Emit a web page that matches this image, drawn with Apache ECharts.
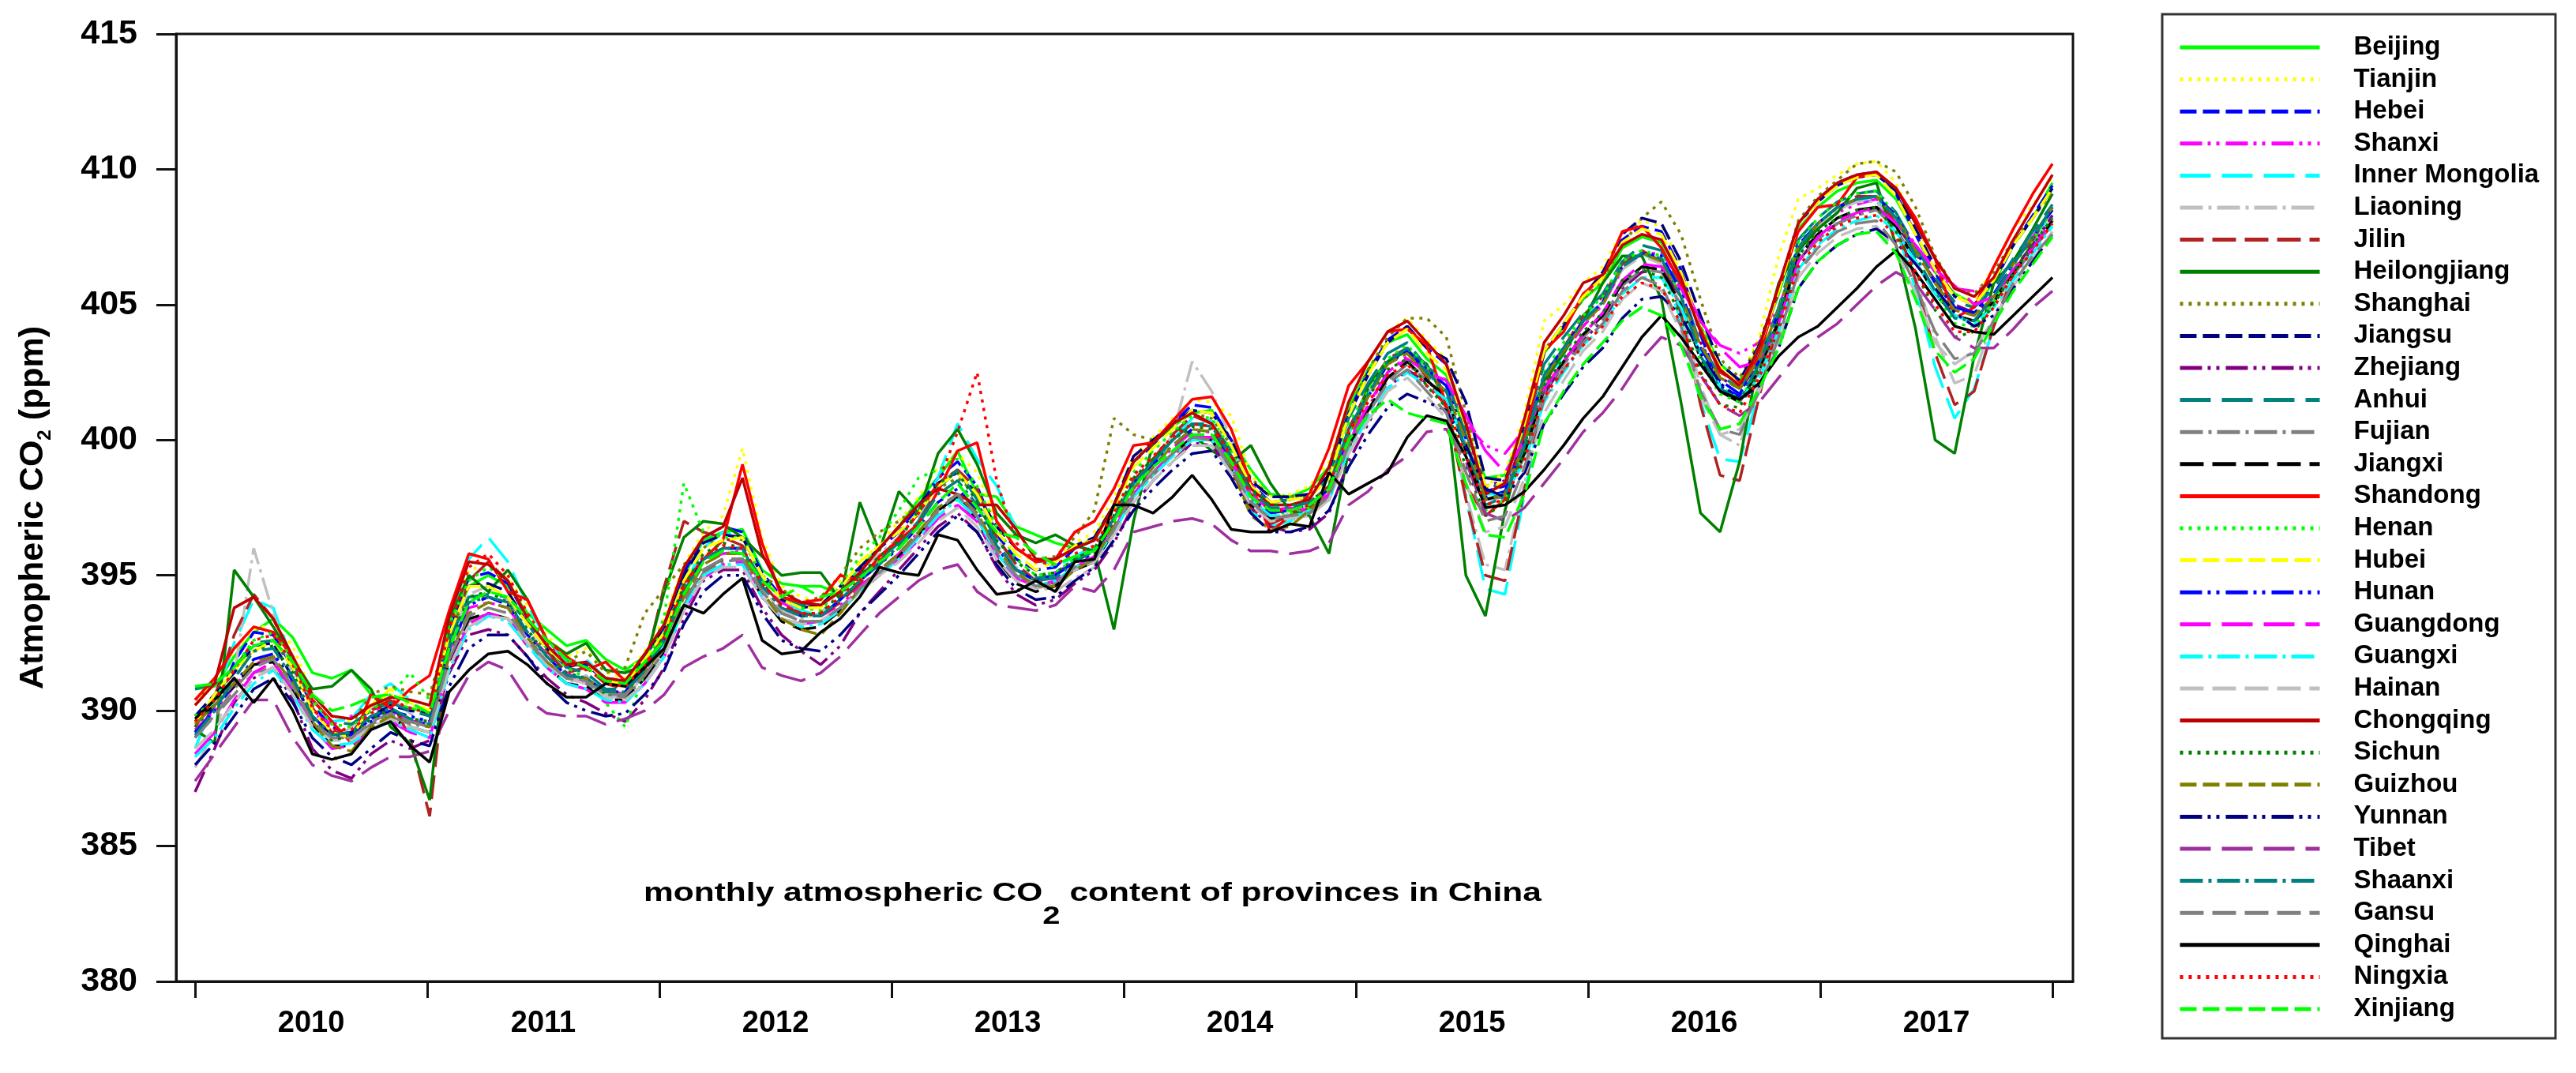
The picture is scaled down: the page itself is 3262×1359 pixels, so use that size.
<!DOCTYPE html>
<html>
<head>
<meta charset="utf-8">
<title>monthly atmospheric CO2 content of provinces in China</title>
<script src="https://cdn.jsdelivr.net/npm/echarts@6/dist/echarts.min.js"></script>
<style>
  html, body { margin: 0; padding: 0; background: #fff; }
  #chart { width: 3262px; height: 1359px; }
</style>
</head>
<body>
<div id="chart"></div>
<script>
// month index: 0 = Jan 2010 ... 95 = Dec 2017
const months = Array.from({ length: 96 }, (_, i) => i)
const yearLabels = ['2010', '2011', '2012', '2013', '2014', '2015', '2016', '2017']

const provinces = [
  'Beijing', 'Tianjin', 'Hebei', 'Shanxi', 'Inner Mongolia', 'Liaoning', 'Jilin', 'Heilongjiang',
  'Shanghai', 'Jiangsu', 'Zhejiang', 'Anhui', 'Fujian', 'Jiangxi', 'Shandong', 'Henan',
  'Hubei', 'Hunan', 'Guangdong', 'Guangxi', 'Hainan', 'Chongqing', 'Sichun', 'Guizhou',
  'Yunnan', 'Tibet', 'Shaanxi', 'Gansu', 'Qinghai', 'Ningxia', 'Xinjiang',
]

// CO2 (ppm), one value per month
const beijing = [
  390.8, 390.9, 392.0, 392.9, 393.4, 392.7, 391.4, 391.2, 391.5, 390.6, 390.3, 390.1,
  389.9, 392.9, 394.6, 395.0, 394.6, 393.6, 393.0, 392.4, 392.6, 391.9, 391.5, 392.0,
  393.0, 395.0, 396.3, 396.6, 396.7, 395.2, 394.7, 394.6, 394.6, 394.3, 395.3, 396.0,
  396.8, 397.8, 398.6, 399.6, 398.0, 397.9, 396.8, 396.5, 396.2, 396.0, 396.4, 397.6,
  399.2, 399.9, 400.5, 401.0, 401.1, 400.0, 398.9, 398.0, 397.9, 398.2, 399.0, 401.2,
  402.6, 403.6, 403.9, 403.0, 402.4, 400.2, 398.6, 398.7, 400.6, 403.2, 404.2, 405.2,
  405.8, 407.1, 407.5, 407.3, 406.1, 404.2, 402.8, 402.2, 403.4, 405.4, 407.8, 408.6,
  409.2, 409.5, 409.6, 408.9, 407.6, 406.2, 405.4, 405.0, 405.8, 407.2, 408.2, 409.5,
]
const tianjin = [
  390.2, 391.2, 392.2, 393.0, 393.2, 392.4, 390.6, 389.8, 389.6, 390.3, 390.6, 390.2,
  390.1, 393.2, 395.2, 395.4, 394.9, 393.9, 392.8, 392.0, 392.3, 391.4, 391.2, 392.2,
  393.4, 395.4, 396.6, 397.2, 399.7, 396.4, 394.6, 394.2, 394.0, 394.8, 395.4, 396.2,
  397.0, 397.9, 399.0, 399.5, 398.8, 397.0, 396.0, 395.4, 395.6, 396.2, 396.6, 397.9,
  399.4, 400.1, 400.8, 401.5, 401.4, 400.9, 398.7, 397.9, 398.0, 398.3, 399.2, 401.4,
  402.8, 404.0, 404.5, 403.7, 403.0, 400.7, 398.3, 398.8, 401.0, 404.4, 405.0, 405.8,
  406.4, 407.7, 408.1, 407.9, 406.5, 404.2, 402.6, 402.2, 403.8, 406.8, 408.9, 409.3,
  409.8, 410.2, 410.3, 409.5, 407.9, 406.6, 405.3, 405.2, 406.4, 407.8, 408.7, 409.7,
]
const hebei = [
  389.0, 390.2, 391.8, 392.9, 392.8, 391.6, 390.2, 389.4, 389.1, 389.7, 390.1, 389.6,
  389.5, 393.0, 394.9, 395.1, 394.7, 393.4, 392.4, 391.7, 391.7, 391.1, 391.0, 392.0,
  393.1, 395.1, 396.4, 396.8, 396.6, 395.1, 394.2, 394.0, 393.9, 394.5, 395.2, 396.0,
  396.6, 397.5, 398.6, 399.2, 398.3, 396.5, 395.6, 395.2, 395.3, 396.0, 396.3, 397.6,
  399.2, 399.8, 400.6, 401.3, 401.2, 400.0, 398.4, 397.7, 397.8, 397.9, 398.7, 401.0,
  402.5, 403.7, 404.2, 403.4, 402.8, 400.6, 398.1, 398.3, 400.4, 403.3, 404.3, 405.3,
  406.1, 407.4, 407.9, 407.7, 406.3, 403.9, 402.0, 401.6, 403.4, 405.5, 408.0, 408.9,
  409.5, 409.8, 409.9, 409.1, 407.6, 406.2, 404.9, 404.6, 405.8, 407.2, 408.3, 409.4,
]
const shanxi = [
  389.3, 390.0, 390.9, 391.7, 392.0, 391.0, 389.9, 389.5, 389.8, 390.1, 390.0, 389.6,
  389.6, 392.2, 393.8, 394.0, 393.8, 392.8, 392.1, 391.4, 391.0, 390.8, 390.6, 391.5,
  392.5, 394.4, 395.6, 395.8, 395.9, 394.6, 394.0, 393.6, 393.5, 393.9, 394.6, 395.2,
  395.8, 396.6, 397.4, 397.9, 397.2, 396.0, 395.2, 394.9, 395.1, 395.5, 395.7, 396.8,
  398.1, 399.0, 399.7, 400.3, 400.3, 399.4, 398.4, 397.5, 397.4, 397.6, 398.0, 399.8,
  401.2, 402.5, 403.1, 402.6, 402.2, 400.6, 399.8, 399.5, 400.4, 402.2, 403.2, 404.2,
  405.0, 406.3, 406.9, 406.9, 405.9, 404.4, 403.5, 403.2, 403.6, 404.9, 406.9, 407.8,
  408.4, 408.7, 408.9, 408.3, 407.2, 406.2, 405.6, 405.5, 405.8, 406.6, 407.5, 408.5,
]
const innerMongolia = [
  388.6, 390.4, 392.5, 394.1, 393.8, 391.8, 390.3, 389.6, 389.7, 390.6, 391.0, 390.4,
  389.8, 393.2, 395.6, 396.4, 395.5, 393.9, 392.6, 391.8, 391.9, 391.2, 391.0, 391.6,
  392.5, 394.6, 396.0, 396.6, 396.4, 395.0, 394.1, 393.7, 393.5, 394.1, 394.8, 395.5,
  396.4, 397.4, 398.6, 400.6, 399.3, 398.3, 396.7, 395.6, 395.3, 395.7, 396.1, 397.1,
  398.3, 399.1, 400.0, 400.8, 400.7, 399.2, 397.4, 396.8, 397.0, 397.4, 398.0, 400.2,
  401.7, 402.9, 403.4, 402.4, 401.4, 397.9, 394.5, 394.3, 398.0, 401.8, 403.2, 404.4,
  405.2, 406.4, 406.9, 406.5, 404.4, 401.4, 399.3, 399.2, 401.8, 404.4, 406.9, 407.9,
  408.5, 408.9, 408.9, 407.8, 405.6, 402.7, 400.8, 401.9, 404.2, 406.1, 407.3, 408.4,
]
const liaoning = [
  387.9, 389.2, 391.3, 396.0, 393.6, 391.3, 389.5, 388.9, 389.4, 390.1, 390.5, 389.9,
  389.4, 392.4, 394.3, 394.6, 394.1, 392.8, 391.8, 391.0, 391.3, 390.6, 390.4, 391.4,
  392.6, 394.4, 395.6, 396.0, 396.0, 394.5, 393.7, 393.4, 393.6, 394.4, 395.2, 395.8,
  396.4, 397.2, 398.4, 398.9, 397.9, 396.4, 395.3, 394.6, 394.4, 394.9, 395.3, 397.4,
  398.4, 399.1, 400.2, 402.9, 401.8, 400.0, 398.0, 397.1, 397.3, 397.6, 398.2, 400.3,
  401.7, 402.9, 403.3, 402.2, 401.2, 398.0, 395.4, 395.2, 398.4, 402.0, 403.3, 404.4,
  405.1, 406.3, 406.8, 406.5, 404.8, 402.0, 400.2, 399.8, 402.1, 404.6, 407.0, 407.9,
  408.5, 408.8, 408.8, 407.9, 406.0, 403.8, 402.1, 402.4, 404.5, 406.2, 407.3, 408.2,
]
const jilin = [
  389.4, 390.5, 392.8, 394.3, 393.4, 391.8, 390.1, 389.2, 389.2, 390.0, 390.4, 389.0,
  386.1, 392.6, 394.8, 395.5, 394.8, 393.4, 392.2, 391.4, 391.6, 391.0, 390.8, 391.6,
  394.6, 397.0, 396.6, 396.4, 396.1, 394.7, 393.9, 393.6, 393.5, 394.0, 394.7, 395.5,
  396.4, 397.3, 398.4, 398.9, 398.2, 396.4, 395.4, 394.8, 394.7, 395.2, 395.7, 397.0,
  398.5, 399.3, 400.2, 400.9, 400.6, 399.1, 397.5, 396.9, 397.2, 397.5, 398.2, 400.4,
  401.9, 403.0, 403.4, 402.3, 401.2, 397.8, 395.0, 394.8, 398.2, 402.0, 403.4, 404.6,
  405.3, 406.5, 407.0, 406.6, 404.7, 401.3, 398.7, 398.5, 401.6, 404.4, 407.0, 408.0,
  408.6, 409.0, 409.0, 408.0, 405.9, 403.2, 401.3, 401.8, 404.2, 406.1, 407.4, 408.6,
]
const heilongjiang = [
  389.3, 388.8, 395.2, 394.2, 393.1, 391.9, 390.8, 390.9, 391.5, 390.8, 389.4, 388.8,
  386.7, 393.3, 395.0, 394.4, 395.2, 394.1, 392.6, 392.1, 392.5, 391.5, 391.4, 391.7,
  394.4, 396.4, 397.0, 396.9, 396.4, 395.7, 395.0, 395.1, 395.1, 394.1, 397.7, 395.9,
  398.1, 397.3, 399.5, 400.4, 399.1, 397.3, 396.5, 396.2, 396.5, 396.1, 395.9, 393.0,
  397.0, 399.9, 400.5, 400.2, 399.6, 399.2, 399.8, 398.4, 397.4, 397.2, 395.8, 399.6,
  402.0, 402.9, 403.3, 402.8, 401.4, 395.0, 393.5, 397.4, 400.1, 402.2, 403.2, 404.4,
  405.8, 406.8, 406.8, 405.2, 401.4, 397.3, 396.6, 399.2, 403.1, 405.8, 407.0, 407.8,
  408.4, 409.3, 409.5, 407.2, 404.1, 400.0, 399.5, 403.1, 405.8, 406.6, 407.8, 409.1,
]
const shanghai = [
  390.4, 391.0, 391.6, 392.2, 392.6, 391.6, 390.2, 389.0, 389.5, 390.6, 390.9, 390.7,
  390.6, 393.0, 394.2, 394.2, 394.0, 392.9, 392.2, 391.8, 392.2, 391.4, 391.6, 393.6,
  394.5, 395.4, 396.0, 396.6, 396.3, 395.0, 394.5, 394.0, 394.2, 395.0, 396.0, 396.6,
  397.0, 397.6, 398.2, 398.6, 398.0, 397.0, 396.0, 395.6, 395.7, 396.4, 397.4, 400.8,
  400.2, 400.0, 400.6, 401.0, 400.8, 399.8, 398.6, 397.9, 397.9, 398.0, 398.9, 401.0,
  402.6, 403.8, 404.5, 404.5, 403.8, 401.0, 398.2, 398.4, 400.4, 403.3, 404.3, 405.2,
  405.9, 407.2, 408.2, 408.8, 407.6, 405.2, 403.0, 402.3, 403.6, 405.6, 408.1, 409.0,
  409.6, 410.2, 410.3, 409.9, 408.6, 406.8, 405.6, 405.4, 406.2, 407.4, 408.2, 409.2,
]
const jiangsu = [
  389.8, 390.6, 391.4, 392.4, 392.5, 391.2, 389.7, 389.1, 389.2, 389.8, 390.2, 390.0,
  389.9, 392.8, 394.6, 394.7, 394.4, 393.2, 392.3, 391.6, 391.8, 391.2, 391.1, 392.0,
  393.0, 395.0, 396.2, 396.5, 396.4, 395.0, 394.1, 393.8, 393.9, 394.6, 395.3, 396.0,
  396.8, 397.6, 398.4, 398.8, 398.0, 396.8, 396.0, 395.5, 395.6, 396.1, 396.4, 397.6,
  399.4, 400.0, 400.6, 401.1, 401.0, 400.0, 398.5, 397.9, 397.9, 398.0, 398.7, 400.9,
  402.4, 403.6, 404.2, 403.4, 403.0, 401.4, 398.6, 398.5, 400.5, 403.2, 404.2, 405.3,
  406.2, 407.6, 408.2, 408.0, 406.6, 404.6, 402.8, 402.2, 403.5, 405.6, 408.0, 408.8,
  409.4, 409.7, 409.8, 409.2, 407.8, 406.4, 405.3, 405.0, 405.9, 407.2, 408.2, 409.3,
]
const zhejiang = [
  387.0, 388.6, 390.3, 391.2, 391.6, 390.4, 388.6, 387.8, 387.5, 388.4, 388.9, 388.6,
  388.9, 391.4, 392.8, 393.0, 392.8, 392.0, 391.2, 390.6, 390.3, 389.9, 389.6, 390.4,
  391.6, 393.4, 394.8, 395.2, 395.2, 393.8, 392.8, 392.2, 391.7, 392.4, 393.6, 394.4,
  395.2, 396.0, 396.8, 397.3, 396.6, 395.3, 394.3, 393.9, 394.1, 394.7, 395.2, 396.2,
  397.6, 398.5, 399.2, 399.9, 399.8, 398.8, 397.5, 396.8, 396.6, 396.7, 397.3, 399.2,
  400.6, 401.9, 402.6, 402.1, 401.8, 400.3, 398.3, 398.5, 399.8, 401.7, 402.8, 403.7,
  404.4, 405.6, 406.2, 406.3, 405.3, 403.6, 402.3, 401.9, 402.8, 404.4, 406.6, 407.5,
  408.0, 408.3, 408.6, 408.0, 406.9, 405.9, 405.0, 404.7, 405.2, 406.3, 407.2, 408.3,
]
const anhui = [
  390.8, 391.0, 391.6, 392.5, 392.6, 391.6, 390.4, 389.6, 389.5, 390.0, 390.3, 390.0,
  389.8, 392.6, 394.2, 394.3, 394.2, 393.2, 392.3, 391.6, 391.4, 390.8, 390.8, 391.7,
  392.7, 394.5, 395.6, 396.0, 396.0, 394.8, 394.2, 393.9, 393.9, 394.4, 395.0, 395.6,
  396.2, 397.0, 398.2, 398.9, 397.8, 396.2, 395.2, 394.9, 395.0, 395.6, 396.0, 397.1,
  398.4, 399.2, 400.0, 400.6, 400.6, 399.6, 398.3, 397.7, 397.8, 397.9, 398.6, 400.8,
  402.1, 403.2, 403.6, 402.7, 402.2, 400.3, 398.2, 398.4, 400.3, 402.8, 403.8, 404.7,
  405.4, 406.6, 407.2, 407.0, 405.7, 403.5, 402.4, 401.9, 403.0, 404.9, 407.4, 408.2,
  408.8, 409.1, 409.2, 408.4, 407.1, 406.0, 405.1, 404.9, 405.6, 406.7, 407.7, 408.7,
]
const fujian = [
  389.2, 389.8, 390.6, 391.4, 391.6, 390.7, 389.6, 389.0, 389.0, 389.5, 389.8, 389.5,
  389.4, 391.8, 393.3, 393.6, 393.4, 392.5, 391.8, 391.2, 391.0, 390.6, 390.5, 391.2,
  392.2, 393.9, 395.1, 395.5, 395.6, 394.4, 393.6, 393.3, 393.3, 393.8, 394.4, 395.0,
  395.6, 396.4, 397.3, 397.9, 397.1, 395.8, 395.0, 394.6, 394.7, 395.2, 395.5, 396.6,
  397.9, 398.7, 399.4, 400.0, 400.0, 399.0, 397.8, 397.2, 397.2, 397.3, 397.9, 399.7,
  401.0, 402.2, 402.8, 402.2, 401.6, 399.8, 397.8, 397.9, 399.4, 401.8, 402.8, 403.8,
  404.5, 405.7, 406.3, 406.2, 405.0, 403.1, 401.8, 401.4, 402.5, 404.3, 406.6, 407.4,
  408.0, 408.3, 408.5, 407.8, 406.6, 405.4, 404.6, 404.4, 405.1, 406.1, 407.0, 408.0,
]
const jiangxi = [
  389.6, 390.2, 390.9, 391.7, 391.8, 390.8, 389.5, 388.7, 388.7, 389.3, 389.7, 389.4,
  389.2, 391.8, 393.4, 393.6, 393.4, 392.4, 391.6, 391.0, 390.9, 390.4, 390.4, 391.2,
  392.2, 394.0, 395.2, 395.6, 395.6, 394.2, 393.3, 393.0, 393.1, 393.7, 394.4, 395.0,
  395.7, 396.5, 397.4, 397.9, 397.0, 395.6, 394.7, 394.4, 394.6, 395.2, 395.5, 396.6,
  398.0, 398.8, 399.5, 400.1, 400.0, 398.9, 397.6, 397.1, 397.2, 397.3, 397.8, 399.8,
  401.1, 402.3, 402.9, 402.2, 401.6, 399.6, 397.8, 398.0, 399.5, 401.9, 402.9, 403.9,
  404.6, 405.8, 406.4, 406.3, 405.0, 403.0, 401.8, 401.4, 402.6, 404.4, 406.8, 407.6,
  408.2, 408.5, 408.6, 407.9, 406.6, 405.4, 404.6, 404.4, 405.1, 406.2, 407.1, 408.1,
]
const shandong = [
  390.4, 391.2, 392.3, 393.1, 392.9, 392.0, 390.4, 389.6, 388.8, 390.6, 390.1, 390.8,
  391.3, 393.7, 395.8, 395.6, 394.4, 394.1, 392.6, 392.0, 391.5, 391.8, 391.1, 391.6,
  392.8, 394.7, 395.6, 396.3, 399.1, 396.2, 394.2, 394.0, 394.1, 395.0, 394.8, 395.7,
  396.3, 396.9, 398.1, 399.6, 399.9, 397.0, 396.0, 395.5, 395.6, 396.6, 397.0, 398.2,
  399.8, 399.9, 400.7, 401.5, 401.6, 400.4, 398.4, 396.6, 397.2, 398.0, 399.7, 402.0,
  402.9, 404.0, 404.1, 403.5, 401.3, 398.3, 397.2, 397.8, 400.1, 403.3, 404.0, 405.4,
  406.0, 407.7, 407.9, 407.1, 405.8, 404.1, 402.5, 402.1, 403.1, 405.6, 407.7, 408.6,
  408.7, 409.7, 409.9, 409.3, 408.2, 406.7, 404.5, 404.9, 406.4, 407.8, 409.1, 410.2,
]
const henan = [
  389.8, 390.4, 391.6, 392.6, 392.9, 391.9, 390.4, 389.5, 389.4, 390.0, 390.6, 391.4,
  390.4, 393.2, 394.8, 395.3, 394.8, 393.6, 392.3, 391.6, 391.2, 390.3, 389.4, 391.4,
  393.5, 398.4, 396.6, 396.4, 396.4, 395.0, 394.1, 393.8, 393.7, 394.6, 395.7, 396.4,
  397.4, 398.6, 398.9, 399.3, 398.3, 396.8, 395.6, 395.0, 395.1, 395.6, 396.0, 397.3,
  398.8, 399.6, 400.3, 400.9, 400.8, 399.6, 397.9, 397.3, 397.3, 397.5, 398.4, 400.6,
  401.8, 403.0, 403.5, 402.7, 402.0, 399.6, 397.4, 397.8, 399.8, 402.5, 403.6, 404.6,
  405.3, 406.6, 407.0, 406.8, 405.3, 402.9, 401.7, 401.4, 402.8, 404.8, 407.3, 408.2,
  408.8, 409.1, 409.2, 408.3, 406.8, 405.5, 404.3, 404.2, 405.1, 406.4, 407.4, 408.5,
]
const hubei = [
  389.5, 390.6, 391.5, 392.2, 392.6, 391.6, 390.0, 389.2, 389.0, 390.2, 390.8, 390.3,
  390.0, 392.8, 394.6, 394.6, 394.2, 393.2, 392.3, 391.7, 391.8, 391.1, 391.0, 391.9,
  392.9, 394.8, 396.0, 396.3, 396.4, 395.0, 394.1, 393.8, 393.8, 394.5, 395.5, 396.1,
  396.6, 397.3, 398.3, 398.8, 398.0, 396.6, 395.8, 395.2, 395.5, 396.1, 396.3, 397.5,
  399.0, 399.7, 400.4, 401.1, 401.0, 399.8, 398.3, 397.7, 397.8, 397.9, 398.6, 400.9,
  402.4, 403.6, 404.1, 403.2, 402.6, 400.5, 398.3, 398.4, 400.6, 403.3, 404.3, 405.3,
  406.0, 407.3, 407.8, 407.6, 406.2, 404.0, 402.7, 402.0, 403.4, 405.5, 408.0, 408.8,
  409.4, 409.7, 409.8, 409.0, 407.6, 406.3, 405.3, 405.0, 405.9, 407.2, 408.2, 409.3,
]
const hunan = [
  389.2, 390.0, 391.0, 391.9, 392.1, 391.1, 389.8, 389.1, 389.1, 389.6, 390.0, 389.8,
  389.6, 392.2, 393.9, 394.2, 393.9, 392.8, 392.0, 391.3, 391.2, 390.7, 390.7, 391.5,
  392.6, 394.4, 395.6, 396.0, 396.0, 394.6, 393.8, 393.5, 393.5, 394.1, 394.8, 395.4,
  396.0, 396.8, 397.7, 398.2, 397.4, 396.0, 395.2, 394.8, 395.0, 395.5, 395.8, 397.0,
  398.4, 399.1, 399.8, 400.4, 400.3, 399.2, 397.9, 397.3, 397.4, 397.6, 398.2, 400.2,
  401.6, 402.8, 403.3, 402.6, 402.0, 400.0, 397.9, 398.1, 399.9, 402.4, 403.4, 404.4,
  405.1, 406.4, 406.9, 406.8, 405.5, 403.4, 402.2, 401.7, 402.9, 404.7, 407.2, 408.0,
  408.6, 408.9, 409.0, 408.3, 407.0, 405.8, 404.9, 404.7, 405.4, 406.5, 407.5, 408.5,
]
const guangdong = [
  388.4, 389.2, 390.4, 391.4, 391.8, 390.8, 389.4, 388.6, 388.7, 389.3, 389.6, 389.2,
  389.0, 391.6, 393.2, 393.6, 393.4, 392.4, 391.6, 391.0, 390.8, 390.3, 390.3, 391.0,
  392.0, 393.7, 394.9, 395.4, 395.5, 394.2, 393.4, 393.2, 393.3, 393.8, 394.5, 395.1,
  395.6, 396.3, 397.1, 397.6, 397.0, 395.7, 394.9, 394.6, 394.8, 395.3, 395.7, 396.7,
  398.0, 398.8, 399.5, 400.1, 400.1, 399.2, 398.0, 397.4, 397.5, 397.4, 398.0, 399.9,
  401.3, 402.5, 403.0, 402.5, 402.2, 400.9, 399.6, 398.8, 400.0, 401.9, 402.9, 403.9,
  404.7, 405.9, 406.5, 406.4, 405.6, 404.4, 403.4, 402.7, 402.9, 404.3, 406.6, 407.5,
  408.1, 408.4, 408.6, 408.0, 407.2, 406.3, 405.7, 405.0, 405.3, 406.3, 407.1, 408.1,
]
const guangxi = [
  388.3, 389.0, 390.1, 391.0, 391.5, 390.6, 389.3, 388.7, 388.8, 389.3, 389.6, 389.3,
  389.0, 391.5, 393.0, 393.5, 393.3, 392.4, 391.6, 391.0, 390.8, 390.4, 390.3, 391.0,
  392.0, 393.8, 395.0, 395.4, 395.4, 394.2, 393.4, 393.1, 393.2, 393.7, 394.4, 395.0,
  395.6, 396.4, 397.2, 397.8, 397.1, 395.8, 395.0, 394.6, 394.8, 395.3, 395.6, 396.6,
  397.9, 398.7, 399.4, 400.0, 400.0, 399.0, 397.8, 397.2, 397.2, 397.3, 397.8, 399.6,
  400.8, 401.9, 402.5, 402.0, 401.5, 399.8, 398.0, 398.0, 399.2, 401.4, 402.5, 403.5,
  404.2, 405.4, 406.0, 406.0, 404.9, 403.2, 402.0, 401.5, 402.3, 404.0, 406.3, 407.2,
  407.8, 408.1, 408.3, 407.7, 406.6, 405.4, 404.6, 404.3, 404.9, 405.9, 406.9, 407.9,
]
const hainan = [
  388.6, 389.3, 390.3, 391.2, 391.6, 390.6, 389.4, 388.9, 388.9, 389.4, 389.7, 389.4,
  389.2, 391.6, 393.1, 393.5, 393.4, 392.5, 391.7, 391.2, 391.0, 390.5, 390.4, 391.0,
  392.0, 393.7, 394.9, 395.3, 395.3, 394.2, 393.4, 393.2, 393.3, 393.8, 394.4, 395.0,
  395.5, 396.2, 397.0, 397.5, 396.8, 395.6, 394.8, 394.5, 394.7, 395.2, 395.5, 396.5,
  397.7, 398.5, 399.2, 399.8, 399.8, 398.8, 397.6, 397.0, 397.1, 397.2, 397.8, 399.5,
  400.7, 401.8, 402.3, 401.6, 400.8, 398.4, 396.6, 396.8, 398.6, 401.0, 402.2, 403.3,
  404.0, 405.2, 405.8, 405.5, 404.0, 401.6, 400.2, 400.4, 401.8, 403.6, 406.0, 406.9,
  407.5, 407.8, 407.9, 407.0, 405.4, 403.6, 402.8, 403.3, 404.5, 405.7, 406.7, 407.7,
]
const chongqing = [
  390.2, 391.0, 393.8, 394.2, 393.4, 392.0, 390.6, 389.8, 389.7, 390.2, 390.5, 390.4,
  390.2, 393.5, 395.5, 395.4, 394.8, 393.4, 392.4, 391.7, 391.8, 391.2, 391.1, 392.1,
  393.2, 395.3, 396.4, 396.8, 398.6, 395.8, 394.4, 394.0, 393.9, 394.4, 395.1, 396.0,
  396.8, 397.6, 398.2, 398.0, 397.6, 397.6, 396.7, 395.6, 395.6, 396.0, 396.3, 397.6,
  399.2, 399.9, 400.6, 401.0, 400.6, 399.4, 398.2, 397.6, 397.6, 397.8, 399.0, 401.4,
  402.9, 404.0, 404.4, 403.6, 402.8, 400.6, 398.0, 398.4, 400.8, 403.6, 404.6, 405.8,
  406.1, 407.2, 407.6, 407.4, 406.0, 404.0, 402.6, 402.0, 403.4, 405.7, 408.0, 408.9,
  409.5, 409.8, 409.9, 409.3, 408.0, 406.7, 405.6, 405.3, 406.0, 407.4, 408.6, 409.8,
]
const sichun = [
  389.4, 390.2, 391.2, 392.2, 392.4, 391.4, 389.8, 388.9, 389.1, 389.7, 390.0, 389.7,
  389.6, 392.4, 394.2, 394.4, 394.0, 393.0, 392.0, 391.4, 391.2, 390.6, 390.6, 391.6,
  392.8, 394.6, 395.8, 396.2, 396.0, 394.7, 393.8, 393.5, 393.6, 394.3, 395.0, 395.7,
  396.3, 397.4, 398.4, 398.8, 397.7, 396.3, 395.5, 395.0, 395.1, 395.6, 396.0, 397.2,
  398.6, 399.3, 400.0, 400.5, 400.4, 399.4, 398.2, 397.6, 397.6, 397.7, 398.3, 400.4,
  401.6, 402.6, 403.0, 402.0, 401.2, 399.0, 397.2, 397.7, 399.6, 402.0, 403.0, 404.0,
  404.7, 405.9, 406.3, 406.0, 404.6, 402.5, 401.3, 401.2, 402.6, 404.4, 406.8, 407.7,
  408.2, 408.5, 408.6, 407.7, 406.2, 404.8, 403.8, 404.0, 405.0, 406.2, 407.2, 408.2,
]
const guizhou = [
  389.5, 390.2, 391.0, 391.8, 392.0, 391.0, 389.6, 388.7, 388.5, 389.4, 389.8, 389.6,
  389.4, 392.0, 393.6, 394.0, 393.8, 392.7, 391.8, 391.2, 391.2, 390.7, 390.6, 391.4,
  392.4, 394.2, 395.4, 395.8, 395.8, 394.4, 393.4, 393.0, 392.8, 393.6, 394.5, 395.2,
  395.8, 396.6, 397.5, 398.0, 397.3, 396.0, 395.1, 394.6, 394.6, 395.2, 395.6, 396.8,
  398.2, 399.0, 399.8, 400.4, 400.3, 399.0, 397.2, 396.7, 396.8, 397.4, 398.1, 400.1,
  401.6, 402.8, 403.2, 402.4, 401.8, 400.0, 397.8, 398.0, 399.9, 402.3, 403.3, 404.3,
  405.0, 406.4, 406.9, 406.6, 405.3, 403.5, 402.3, 401.9, 403.0, 404.8, 407.1, 408.0,
  408.6, 408.9, 409.0, 408.2, 407.0, 405.8, 404.8, 404.6, 405.3, 406.5, 407.5, 408.6,
]
const yunnan = [
  388.0, 388.8, 389.8, 390.8, 391.2, 390.3, 389.0, 388.3, 388.0, 388.6, 389.2, 388.9,
  388.7, 390.9, 392.3, 392.8, 392.8, 392.0, 391.0, 390.3, 390.0, 389.8, 389.9, 390.6,
  391.5, 393.2, 394.4, 395.0, 395.0, 393.6, 392.6, 392.3, 392.2, 392.8, 393.6, 394.3,
  395.0, 395.8, 396.6, 397.2, 396.6, 395.4, 394.5, 394.1, 394.2, 394.8, 395.3, 396.3,
  397.4, 398.2, 398.9, 399.5, 399.6, 398.6, 397.3, 396.6, 396.6, 396.8, 397.4, 399.0,
  400.2, 401.2, 401.7, 401.4, 401.1, 399.8, 398.2, 397.9, 398.8, 400.6, 401.7, 402.7,
  403.4, 404.5, 405.2, 405.3, 404.6, 403.2, 402.1, 401.5, 402.0, 403.4, 405.6, 406.6,
  407.2, 407.6, 407.8, 407.3, 406.5, 405.6, 404.7, 404.2, 404.6, 405.6, 406.6, 407.6,
]
const tibet = [
  387.4, 388.4, 389.4, 390.4, 390.4, 389.0, 388.0, 387.6, 387.4, 387.9, 388.3, 388.3,
  388.5, 390.0, 391.3, 391.8, 391.5, 390.4, 389.9, 389.8, 389.8, 389.5, 389.7, 390.0,
  390.6, 391.6, 392.0, 392.3, 392.8, 391.6, 391.3, 391.1, 391.4, 392.0, 392.8, 393.6,
  394.2, 394.8, 395.2, 395.4, 394.4, 393.9, 393.8, 393.7, 393.9, 394.6, 394.4, 395.2,
  396.6, 396.8, 397.0, 397.1, 396.9, 396.3, 395.9, 395.9, 395.8, 395.9, 396.2, 397.6,
  398.1, 398.9, 399.4, 400.3, 400.4, 399.2, 397.3, 397.0, 397.5, 398.4, 399.3, 400.3,
  401.0, 401.9, 403.0, 403.8, 403.5, 402.4, 401.3, 400.9, 401.4, 402.3, 403.2, 403.8,
  404.3, 405.0, 405.7, 406.2, 405.8, 404.8, 403.8, 403.4, 403.4, 404.1, 404.9, 405.5,
]
const shaanxi = [
  389.1, 390.0, 391.2, 392.2, 392.3, 391.2, 389.8, 389.1, 389.2, 389.8, 390.1, 389.7,
  389.5, 392.3, 394.0, 394.2, 394.0, 392.9, 392.0, 391.3, 391.2, 390.7, 390.7, 391.5,
  392.6, 394.4, 395.6, 396.0, 396.0, 394.6, 393.8, 393.5, 393.5, 394.1, 394.8, 395.4,
  396.1, 396.9, 398.0, 398.5, 397.6, 396.1, 395.2, 394.8, 394.9, 395.5, 395.9, 397.1,
  398.4, 399.2, 400.0, 400.6, 400.5, 399.4, 398.1, 397.5, 397.5, 397.7, 398.3, 400.4,
  401.7, 402.9, 403.4, 402.5, 401.8, 399.6, 397.6, 397.9, 399.8, 402.4, 403.4, 404.4,
  405.1, 406.4, 406.9, 406.7, 405.3, 403.1, 401.9, 401.5, 402.8, 404.7, 407.1, 408.0,
  408.6, 408.9, 409.0, 408.2, 406.8, 405.5, 404.5, 404.4, 405.3, 406.5, 407.5, 408.6,
]
const gansu = [
  389.0, 389.8, 390.8, 391.6, 391.9, 390.9, 389.6, 389.0, 389.0, 389.6, 389.9, 389.6,
  389.4, 391.9, 393.5, 393.8, 393.6, 392.6, 391.8, 391.2, 391.1, 390.6, 390.6, 391.3,
  392.3, 394.0, 395.2, 395.6, 395.6, 394.4, 393.6, 393.3, 393.3, 393.8, 394.5, 395.1,
  395.7, 396.5, 397.4, 398.0, 397.2, 395.9, 395.0, 394.6, 394.7, 395.3, 395.6, 396.7,
  398.0, 398.8, 399.5, 400.1, 400.0, 399.0, 397.7, 397.1, 397.2, 397.3, 397.9, 399.8,
  401.0, 402.1, 402.6, 401.8, 401.0, 398.8, 397.0, 397.2, 399.0, 401.5, 402.6, 403.6,
  404.3, 405.5, 406.0, 405.7, 404.2, 401.8, 400.4, 400.2, 401.8, 403.8, 406.2, 407.1,
  407.7, 408.0, 408.1, 407.2, 405.7, 404.0, 403.0, 403.2, 404.4, 405.8, 406.8, 407.6,
]
const qinghai = [
  389.7, 390.4, 391.2, 390.3, 391.2, 390.0, 388.4, 388.2, 388.4, 389.3, 389.6, 388.7,
  388.1, 390.7, 391.5, 392.1, 392.2, 391.7, 391.0, 390.5, 390.5, 391.0, 390.9, 391.6,
  392.3, 393.9, 393.6, 394.3, 394.9, 392.6, 392.1, 392.2, 392.9, 393.4, 394.2, 395.3,
  395.1, 395.0, 396.5, 396.3, 395.2, 394.3, 394.4, 394.8, 394.4, 395.5, 395.6, 397.6,
  397.6, 397.3, 397.9, 398.7, 397.8, 396.7, 396.6, 396.6, 396.9, 396.8, 398.8, 398.0,
  398.4, 398.8, 400.1, 400.9, 400.7, 399.4, 397.5, 397.6, 398.1, 398.9, 399.8, 400.8,
  401.6, 402.7, 403.8, 404.6, 403.8, 402.8, 401.8, 401.5, 402.1, 403.1, 403.8, 404.2,
  404.9, 405.6, 406.4, 407.0, 406.2, 405.2, 404.2, 404.0, 403.9, 404.6, 405.3, 406.0,
]
const ningxia = [
  389.6, 390.4, 391.5, 392.6, 392.8, 391.7, 390.1, 389.3, 389.3, 389.9, 390.4, 390.1,
  389.9, 393.0, 395.3, 395.8, 395.0, 393.6, 392.5, 391.7, 391.6, 391.0, 390.9, 391.7,
  392.7, 394.5, 395.7, 396.1, 396.0, 394.7, 393.9, 393.6, 393.6, 394.2, 394.9, 395.6,
  396.4, 397.3, 398.4, 400.3, 402.5, 398.5, 396.2, 395.5, 395.4, 395.8, 396.1, 397.3,
  398.7, 399.4, 400.1, 400.6, 400.5, 399.4, 398.0, 397.4, 397.4, 397.6, 398.3, 400.3,
  401.4, 402.4, 402.8, 402.0, 401.3, 399.4, 397.6, 397.8, 399.3, 401.6, 402.6, 403.5,
  404.2, 405.3, 405.8, 405.6, 404.3, 402.4, 401.3, 401.0, 402.3, 404.1, 406.4, 407.3,
  407.9, 408.2, 408.3, 407.5, 406.2, 405.0, 404.0, 404.0, 404.9, 406.1, 407.0, 408.0,
]
const xinjiang = [
  390.9, 391.0, 391.6, 392.4, 392.6, 391.8, 390.6, 390.0, 390.2, 390.5, 390.6, 390.3,
  389.9, 392.3, 394.0, 394.4, 394.2, 393.4, 392.6, 391.9, 391.6, 391.1, 391.0, 391.8,
  392.6, 394.3, 395.5, 395.9, 395.8, 394.8, 394.2, 394.6, 394.2, 394.4, 394.9, 395.5,
  396.0, 396.8, 397.7, 398.4, 397.5, 396.6, 396.4, 395.8, 395.4, 395.7, 395.9, 397.0,
  398.3, 399.0, 399.6, 400.2, 400.2, 399.2, 397.9, 397.4, 397.4, 397.6, 398.2, 400.0,
  400.9, 401.5, 401.0, 400.8, 400.6, 398.4, 396.5, 396.4, 398.0, 400.6, 401.8, 402.8,
  403.6, 404.4, 404.9, 404.6, 403.5, 401.6, 400.4, 400.6, 401.9, 403.4, 405.6, 406.6,
  407.2, 407.6, 407.7, 406.9, 405.2, 403.3, 402.5, 403.0, 404.3, 405.5, 406.5, 407.5,
]

const provinceValues = [
  beijing, tianjin, hebei, shanxi, innerMongolia, liaoning, jilin, heilongjiang,
  shanghai, jiangsu, zhejiang, anhui, fujian, jiangxi, shandong, henan,
  hubei, hunan, guangdong, guangxi, hainan, chongqing, sichun, guizhou,
  yunnan, tibet, shaanxi, gansu, qinghai, ningxia, xinjiang,
]

// styles
const lineColors = [
  '#00ff00', '#ffff00', '#0000ff', '#ff00ff', '#00ffff', '#c0c0c0', '#b22222', '#008000',
  '#808000', '#000080', '#800080', '#008080', '#808080', '#000000', '#ff0000', '#00ff00',
  '#ffff00', '#0000ff', '#ff00ff', '#00ffff', '#c0c0c0', '#c00000', '#008000', '#808000',
  '#000080', '#a030a0', '#008080', '#808080', '#000000', '#ff0000', '#00ff00',
]
const dashCycle = ['solid', [4, 7], [21, 8], [28, 7, 4, 7, 4, 8], [39, 14], [29, 7, 4, 7], [30, 11]]

const FONT = '"Liberation Sans", Arial, Helvetica, sans-serif'

// x axis: month 0 sits on the 2010 tick, month 95 on the closing tick
const yearTicks = yearLabels.map((_, k) => k * 95 / 8).concat([95])
const yearMids = yearLabels.map((_, k) => (k + 0.5) * 95 / 8)

const chart = echarts.init(document.getElementById('chart'), null, { renderer: 'canvas' })

const series = provinces.map((name, i) => ({
  name,
  type: 'line',
  symbol: 'none',
  silent: true,
  animation: false,
  lineStyle: { color: lineColors[i], width: 3.5, type: dashCycle[i % 7] },
  itemStyle: { color: lineColors[i] },
  data: provinceValues[i].map((v, j) => [months[j], v]),
}))

const option = {
  backgroundColor: '#ffffff',
  animation: false,
  grid: {
    left: 223,
    right: 637,
    top: 43,
    bottom: 116,
    show: true,
    borderColor: '#111',
    borderWidth: 3,
  },
  xAxis: {
    type: 'value',
    min: -0.97,
    max: 96.05,
    splitLine: { show: false },
    axisLine: { onZero: false, lineStyle: { color: '#111', width: 3 } },
    axisTick: {
      customValues: yearTicks,
      length: 21,
      lineStyle: { color: '#111', width: 3 },
    },
    axisLabel: {
      customValues: yearMids,
      margin: 35,
      fontSize: 38,
      fontWeight: 'bold',
      fontFamily: FONT,
      color: '#000',
      formatter: (value) => {
        const k = yearMids.findIndex((m) => Math.abs(m - value) < 0.01)
        return k >= 0 ? yearLabels[k] : ''
      },
    },
  },
  yAxis: {
    type: 'value',
    min: 380,
    max: 415,
    interval: 5,
    splitLine: { show: false },
    axisLine: { show: true, onZero: false, lineStyle: { color: '#111', width: 3 } },
    axisTick: { show: true, length: 25, lineStyle: { color: '#111', width: 3 } },
    axisLabel: {
      margin: 49,
      fontSize: 43,
      fontWeight: 'bold',
      fontFamily: FONT,
      color: '#000',
    },
    name: 'Atmopheric CO{sub|2} (ppm)',
    nameLocation: 'middle',
    nameRotate: 90,
    nameGap: 157,
    nameTextStyle: {
      fontSize: 43,
      fontWeight: 'bold',
      fontFamily: FONT,
      color: '#000',
      lineHeight: 48,
      rich: {
        sub: { fontSize: 24, fontWeight: 'bold', fontFamily: FONT, color: '#000', padding: [30, 0, 0, 0] },
      },
    },
  },
  legend: {
    orient: 'vertical',
    left: 2758,
    top: 42,
    padding: 0,
    itemWidth: 177,
    itemHeight: 14,
    itemGap: 4.6,
    selectedMode: false,
    data: provinces,
    lineStyle: { width: 5 },
    itemStyle: { opacity: 0 },
    textStyle: {
      fontSize: 33,
      fontWeight: 'bold',
      fontFamily: FONT,
      color: '#000',
      lineHeight: 36,
      padding: [0, 0, 0, 38],
    },
  },
  graphic: [
    {
      type: 'rect',
      shape: { x: 2738, y: 18, width: 498, height: 1297 },
      style: { fill: 'none', stroke: '#333', lineWidth: 3 },
      silent: true,
    },
    {
      type: 'text',
      x: 815,
      y: 1132,
      scaleX: 1.25,
      silent: true,
      style: {
        text: 'monthly atmospheric CO{sub|2} content of provinces in China',
        fontSize: 34,
        fontWeight: 'bold',
        fontFamily: FONT,
        fill: '#000',
        align: 'left',
        verticalAlign: 'middle',
        lineHeight: 40,
        rich: {
          sub: { fontSize: 32, fontWeight: 'bold', fontFamily: FONT, fill: '#000', padding: [58, 0, 0, 0] },
        },
      },
    },
  ],
  series,
}

chart.setOption(option)
window.addEventListener('resize', () => chart.resize())
</script>
</body>
</html>
